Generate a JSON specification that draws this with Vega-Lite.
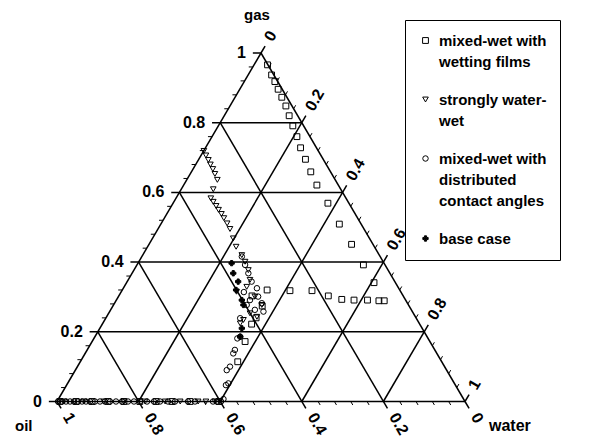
{
  "$schema": "https://vega.github.io/schema/vega-lite/v6.json",
  "width": 408,
  "height": 348.5,
  "autosize": {"type": "none"},
  "padding": {"left": 57, "top": 53, "right": 124, "bottom": 36.5},
  "background": "white",
  "config": {
    "view": {"stroke": null},
    "font": "Liberation Sans",
    "style": {"guide-label": {"lineHeight": 21}},
    "legend": {
      "strokeColor": "black",
      "fillColor": "white",
      "padding": 13,
      "labelFont": "Liberation Sans",
      "labelFontSize": 15,
      "labelFontWeight": "bold",
      "labelColor": "black",
      "labelLimit": 400,
      "rowPadding": 22,
      "labelOffset": 6,
      "symbolStrokeWidth": 1
    }
  },
  "datasets": {
    "major": [
      {"x": 0, "y": 0, "x2": 1, "y2": 0},
      {"x": 0, "y": 0, "x2": 0.5, "y2": 1},
      {"x": 1, "y": 0, "x2": 0.5, "y2": 1},
      {"x": -0.02, "y": 0, "x2": 0, "y2": 0},
      {"x": 0.08, "y": 0.2, "x2": 0.9, "y2": 0.2},
      {"x": 0.18, "y": 0.4, "x2": 0.8, "y2": 0.4},
      {"x": 0.28, "y": 0.6, "x2": 0.7, "y2": 0.6},
      {"x": 0.38, "y": 0.8, "x2": 0.6, "y2": 0.8},
      {"x": 0.48, "y": 1, "x2": 0.5, "y2": 1},
      {"x": 0.5, "y": 1, "x2": 0.51, "y2": 1.02},
      {"x": 0.2, "y": 0, "x2": 0.61, "y2": 0.82},
      {"x": 0.4, "y": 0, "x2": 0.71, "y2": 0.62},
      {"x": 0.6, "y": 0, "x2": 0.81, "y2": 0.42},
      {"x": 0.8, "y": 0, "x2": 0.91, "y2": 0.22},
      {"x": 1, "y": 0, "x2": 1.01, "y2": 0.02},
      {"x": 0.4, "y": 0.8, "x2": 0.81, "y2": -0.02},
      {"x": 0.3, "y": 0.6, "x2": 0.61, "y2": -0.02},
      {"x": 0.2, "y": 0.4, "x2": 0.41, "y2": -0.02},
      {"x": 0.1, "y": 0.2, "x2": 0.21, "y2": -0.02},
      {"x": 0, "y": 0, "x2": 0.01, "y2": -0.02},
      {"x": 1, "y": 0, "x2": 1.01, "y2": -0.02}
    ],
    "minor": [
      {"x": 0.02, "y": 0.04, "x2": 0.01, "y2": 0.04},
      {"x": 0.04, "y": 0.08, "x2": 0.03, "y2": 0.08},
      {"x": 0.06, "y": 0.12, "x2": 0.05, "y2": 0.12},
      {"x": 0.08, "y": 0.16, "x2": 0.07, "y2": 0.16},
      {"x": 0.12, "y": 0.24, "x2": 0.11, "y2": 0.24},
      {"x": 0.14, "y": 0.28, "x2": 0.13, "y2": 0.28},
      {"x": 0.16, "y": 0.32, "x2": 0.15, "y2": 0.32},
      {"x": 0.18, "y": 0.36, "x2": 0.17, "y2": 0.36},
      {"x": 0.22, "y": 0.44, "x2": 0.21, "y2": 0.44},
      {"x": 0.24, "y": 0.48, "x2": 0.23, "y2": 0.48},
      {"x": 0.26, "y": 0.52, "x2": 0.25, "y2": 0.52},
      {"x": 0.28, "y": 0.56, "x2": 0.27, "y2": 0.56},
      {"x": 0.32, "y": 0.64, "x2": 0.31, "y2": 0.64},
      {"x": 0.34, "y": 0.68, "x2": 0.33, "y2": 0.68},
      {"x": 0.36, "y": 0.72, "x2": 0.35, "y2": 0.72},
      {"x": 0.38, "y": 0.76, "x2": 0.37, "y2": 0.76},
      {"x": 0.42, "y": 0.84, "x2": 0.41, "y2": 0.84},
      {"x": 0.44, "y": 0.88, "x2": 0.43, "y2": 0.88},
      {"x": 0.46, "y": 0.92, "x2": 0.45, "y2": 0.92},
      {"x": 0.48, "y": 0.96, "x2": 0.47, "y2": 0.96},
      {"x": 0.52, "y": 0.96, "x2": 0.525, "y2": 0.97},
      {"x": 0.54, "y": 0.92, "x2": 0.545, "y2": 0.93},
      {"x": 0.56, "y": 0.88, "x2": 0.565, "y2": 0.89},
      {"x": 0.58, "y": 0.84, "x2": 0.585, "y2": 0.85},
      {"x": 0.62, "y": 0.76, "x2": 0.625, "y2": 0.77},
      {"x": 0.64, "y": 0.72, "x2": 0.645, "y2": 0.73},
      {"x": 0.66, "y": 0.68, "x2": 0.665, "y2": 0.69},
      {"x": 0.68, "y": 0.64, "x2": 0.685, "y2": 0.65},
      {"x": 0.72, "y": 0.56, "x2": 0.725, "y2": 0.57},
      {"x": 0.74, "y": 0.52, "x2": 0.745, "y2": 0.53},
      {"x": 0.76, "y": 0.48, "x2": 0.765, "y2": 0.49},
      {"x": 0.78, "y": 0.44, "x2": 0.785, "y2": 0.45},
      {"x": 0.82, "y": 0.36, "x2": 0.825, "y2": 0.37},
      {"x": 0.84, "y": 0.32, "x2": 0.845, "y2": 0.33},
      {"x": 0.86, "y": 0.28, "x2": 0.865, "y2": 0.29},
      {"x": 0.88, "y": 0.24, "x2": 0.885, "y2": 0.25},
      {"x": 0.92, "y": 0.16, "x2": 0.925, "y2": 0.17},
      {"x": 0.94, "y": 0.12, "x2": 0.945, "y2": 0.13},
      {"x": 0.96, "y": 0.08, "x2": 0.965, "y2": 0.09},
      {"x": 0.98, "y": 0.04, "x2": 0.985, "y2": 0.05},
      {"x": 0.04, "y": 0, "x2": 0.045, "y2": -0.01},
      {"x": 0.08, "y": 0, "x2": 0.085, "y2": -0.01},
      {"x": 0.12, "y": 0, "x2": 0.125, "y2": -0.01},
      {"x": 0.16, "y": 0, "x2": 0.165, "y2": -0.01},
      {"x": 0.24, "y": 0, "x2": 0.245, "y2": -0.01},
      {"x": 0.28, "y": 0, "x2": 0.285, "y2": -0.01},
      {"x": 0.32, "y": 0, "x2": 0.325, "y2": -0.01},
      {"x": 0.36, "y": 0, "x2": 0.365, "y2": -0.01},
      {"x": 0.44, "y": 0, "x2": 0.445, "y2": -0.01},
      {"x": 0.48, "y": 0, "x2": 0.485, "y2": -0.01},
      {"x": 0.52, "y": 0, "x2": 0.525, "y2": -0.01},
      {"x": 0.56, "y": 0, "x2": 0.565, "y2": -0.01},
      {"x": 0.64, "y": 0, "x2": 0.645, "y2": -0.01},
      {"x": 0.68, "y": 0, "x2": 0.685, "y2": -0.01},
      {"x": 0.72, "y": 0, "x2": 0.725, "y2": -0.01},
      {"x": 0.76, "y": 0, "x2": 0.765, "y2": -0.01},
      {"x": 0.84, "y": 0, "x2": 0.845, "y2": -0.01},
      {"x": 0.88, "y": 0, "x2": 0.885, "y2": -0.01},
      {"x": 0.92, "y": 0, "x2": 0.925, "y2": -0.01},
      {"x": 0.96, "y": 0, "x2": 0.965, "y2": -0.01}
    ],
    "labels": [
      {"k": "gas", "t": "0", "x": 0, "y": 0},
      {"k": "gas", "t": "0.2", "x": 0.1, "y": 0.2},
      {"k": "gas", "t": "0.4", "x": 0.2, "y": 0.4},
      {"k": "gas", "t": "0.6", "x": 0.3, "y": 0.6},
      {"k": "gas", "t": "0.8", "x": 0.4, "y": 0.8},
      {"k": "gas", "t": "1", "x": 0.5, "y": 1},
      {"k": "oil", "t": "1", "x": 0, "y": 0},
      {"k": "oil", "t": "0.8", "x": 0.2, "y": 0},
      {"k": "oil", "t": "0.6", "x": 0.4, "y": 0},
      {"k": "oil", "t": "0.4", "x": 0.6, "y": 0},
      {"k": "oil", "t": "0.2", "x": 0.8, "y": 0},
      {"k": "oil", "t": "0", "x": 1, "y": 0},
      {"k": "water", "t": "0", "x": 0.5, "y": 1},
      {"k": "water", "t": "0.2", "x": 0.6, "y": 0.8},
      {"k": "water", "t": "0.4", "x": 0.7, "y": 0.6},
      {"k": "water", "t": "0.6", "x": 0.8, "y": 0.4},
      {"k": "water", "t": "0.8", "x": 0.9, "y": 0.2},
      {"k": "water", "t": "1", "x": 1, "y": 0},
      {"k": "tgas", "t": "gas", "x": 0.5, "y": 1},
      {"k": "toil", "t": "oil", "x": 0, "y": 0},
      {"k": "twater", "t": "water", "x": 1, "y": 0}
    ],
    "pts": [
      {"s": "mixed-wet with wetting films", "x": 0.516, "y": 0.966},
      {"s": "mixed-wet with wetting films", "x": 0.526, "y": 0.937},
      {"s": "mixed-wet with wetting films", "x": 0.534, "y": 0.918},
      {"s": "mixed-wet with wetting films", "x": 0.542, "y": 0.896},
      {"s": "mixed-wet with wetting films", "x": 0.551, "y": 0.873},
      {"s": "mixed-wet with wetting films", "x": 0.561, "y": 0.848},
      {"s": "mixed-wet with wetting films", "x": 0.569, "y": 0.82},
      {"s": "mixed-wet with wetting films", "x": 0.578, "y": 0.791},
      {"s": "mixed-wet with wetting films", "x": 0.588, "y": 0.76},
      {"s": "mixed-wet with wetting films", "x": 0.597, "y": 0.728},
      {"s": "mixed-wet with wetting films", "x": 0.609, "y": 0.695},
      {"s": "mixed-wet with wetting films", "x": 0.622, "y": 0.659},
      {"s": "mixed-wet with wetting films", "x": 0.637, "y": 0.621},
      {"s": "mixed-wet with wetting films", "x": 0.664, "y": 0.569},
      {"s": "mixed-wet with wetting films", "x": 0.692, "y": 0.509},
      {"s": "mixed-wet with wetting films", "x": 0.722, "y": 0.451},
      {"s": "mixed-wet with wetting films", "x": 0.751, "y": 0.392},
      {"s": "mixed-wet with wetting films", "x": 0.777, "y": 0.341},
      {"s": "mixed-wet with wetting films", "x": 0.515, "y": 0.32},
      {"s": "mixed-wet with wetting films", "x": 0.571, "y": 0.318},
      {"s": "mixed-wet with wetting films", "x": 0.625, "y": 0.318},
      {"s": "mixed-wet with wetting films", "x": 0.665, "y": 0.303},
      {"s": "mixed-wet with wetting films", "x": 0.698, "y": 0.293},
      {"s": "mixed-wet with wetting films", "x": 0.728, "y": 0.291},
      {"s": "mixed-wet with wetting films", "x": 0.761, "y": 0.291},
      {"s": "mixed-wet with wetting films", "x": 0.789, "y": 0.289},
      {"s": "mixed-wet with wetting films", "x": 0.802, "y": 0.289},
      {"s": "mixed-wet with wetting films", "x": 0.478, "y": 0.303},
      {"s": "mixed-wet with wetting films", "x": 0.503, "y": 0.274},
      {"s": "mixed-wet with wetting films", "x": 0.488, "y": 0.24},
      {"s": "mixed-wet with wetting films", "x": 0.477, "y": 0.222},
      {"s": "mixed-wet with wetting films", "x": 0.461, "y": 0.172},
      {"s": "mixed-wet with wetting films", "x": 0.443, "y": 0.114},
      {"s": "mixed-wet with wetting films", "x": 0.007, "y": 0},
      {"s": "mixed-wet with wetting films", "x": 0.047, "y": 0},
      {"s": "mixed-wet with wetting films", "x": 0.086, "y": 0},
      {"s": "mixed-wet with wetting films", "x": 0.125, "y": 0},
      {"s": "mixed-wet with wetting films", "x": 0.164, "y": 0},
      {"s": "mixed-wet with wetting films", "x": 0.203, "y": 0},
      {"s": "mixed-wet with wetting films", "x": 0.243, "y": 0},
      {"s": "mixed-wet with wetting films", "x": 0.282, "y": 0},
      {"s": "mixed-wet with wetting films", "x": 0.326, "y": 0},
      {"s": "mixed-wet with wetting films", "x": 0.397, "y": 0},
      {"s": "strongly water-wet", "x": 0.36, "y": 0.719},
      {"s": "strongly water-wet", "x": 0.365, "y": 0.706},
      {"s": "strongly water-wet", "x": 0.371, "y": 0.693},
      {"s": "strongly water-wet", "x": 0.376, "y": 0.68},
      {"s": "strongly water-wet", "x": 0.382, "y": 0.667},
      {"s": "strongly water-wet", "x": 0.387, "y": 0.653},
      {"s": "strongly water-wet", "x": 0.393, "y": 0.636},
      {"s": "strongly water-wet", "x": 0.383, "y": 0.609},
      {"s": "strongly water-wet", "x": 0.377, "y": 0.583},
      {"s": "strongly water-wet", "x": 0.383, "y": 0.573},
      {"s": "strongly water-wet", "x": 0.39, "y": 0.561},
      {"s": "strongly water-wet", "x": 0.396, "y": 0.55},
      {"s": "strongly water-wet", "x": 0.403, "y": 0.538},
      {"s": "strongly water-wet", "x": 0.409, "y": 0.526},
      {"s": "strongly water-wet", "x": 0.417, "y": 0.511},
      {"s": "strongly water-wet", "x": 0.424, "y": 0.495},
      {"s": "strongly water-wet", "x": 0.432, "y": 0.468},
      {"s": "strongly water-wet", "x": 0.439, "y": 0.444},
      {"s": "strongly water-wet", "x": 0.453, "y": 0.42},
      {"s": "strongly water-wet", "x": 0.461, "y": 0.401},
      {"s": "strongly water-wet", "x": 0.469, "y": 0.377},
      {"s": "strongly water-wet", "x": 0.473, "y": 0.349},
      {"s": "strongly water-wet", "x": 0.465, "y": 0.329},
      {"s": "strongly water-wet", "x": 0.44, "y": 0.315},
      {"s": "strongly water-wet", "x": 0.485, "y": 0.301},
      {"s": "strongly water-wet", "x": 0.502, "y": 0.277},
      {"s": "strongly water-wet", "x": 0.473, "y": 0.253},
      {"s": "strongly water-wet", "x": 0.49, "y": 0.243},
      {"s": "strongly water-wet", "x": 0.457, "y": 0.234},
      {"s": "strongly water-wet", "x": 0.449, "y": 0.224},
      {"s": "strongly water-wet", "x": 0.017, "y": 0},
      {"s": "strongly water-wet", "x": 0.066, "y": 0},
      {"s": "strongly water-wet", "x": 0.115, "y": 0},
      {"s": "strongly water-wet", "x": 0.164, "y": 0},
      {"s": "strongly water-wet", "x": 0.216, "y": 0},
      {"s": "strongly water-wet", "x": 0.265, "y": 0},
      {"s": "strongly water-wet", "x": 0.302, "y": 0},
      {"s": "strongly water-wet", "x": 0.346, "y": 0},
      {"s": "strongly water-wet", "x": 0.365, "y": 0},
      {"s": "strongly water-wet", "x": 0.387, "y": 0},
      {"s": "mixed-wet with distributed contact angles", "x": 0.453, "y": 0.416},
      {"s": "mixed-wet with distributed contact angles", "x": 0.461, "y": 0.392},
      {"s": "mixed-wet with distributed contact angles", "x": 0.469, "y": 0.368},
      {"s": "mixed-wet with distributed contact angles", "x": 0.477, "y": 0.344},
      {"s": "mixed-wet with distributed contact angles", "x": 0.49, "y": 0.325},
      {"s": "mixed-wet with distributed contact angles", "x": 0.493, "y": 0.301},
      {"s": "mixed-wet with distributed contact angles", "x": 0.502, "y": 0.282},
      {"s": "mixed-wet with distributed contact angles", "x": 0.506, "y": 0.258},
      {"s": "mixed-wet with distributed contact angles", "x": 0.485, "y": 0.263},
      {"s": "mixed-wet with distributed contact angles", "x": 0.465, "y": 0.277},
      {"s": "mixed-wet with distributed contact angles", "x": 0.449, "y": 0.239},
      {"s": "mixed-wet with distributed contact angles", "x": 0.449, "y": 0.186},
      {"s": "mixed-wet with distributed contact angles", "x": 0.458, "y": 0.314},
      {"s": "mixed-wet with distributed contact angles", "x": 0.473, "y": 0.291},
      {"s": "mixed-wet with distributed contact angles", "x": 0.442, "y": 0.181},
      {"s": "mixed-wet with distributed contact angles", "x": 0.436, "y": 0.148},
      {"s": "mixed-wet with distributed contact angles", "x": 0.432, "y": 0.138},
      {"s": "mixed-wet with distributed contact angles", "x": 0.424, "y": 0.1},
      {"s": "mixed-wet with distributed contact angles", "x": 0.416, "y": 0.09},
      {"s": "mixed-wet with distributed contact angles", "x": 0.42, "y": 0.052},
      {"s": "mixed-wet with distributed contact angles", "x": 0.414, "y": 0.047},
      {"s": "mixed-wet with distributed contact angles", "x": 0.408, "y": 0.007},
      {"s": "mixed-wet with distributed contact angles", "x": 0.0025, "y": 0},
      {"s": "mixed-wet with distributed contact angles", "x": 0.0123, "y": 0},
      {"s": "mixed-wet with distributed contact angles", "x": 0.0221, "y": 0},
      {"s": "mixed-wet with distributed contact angles", "x": 0.0319, "y": 0},
      {"s": "mixed-wet with distributed contact angles", "x": 0.0417, "y": 0},
      {"s": "mixed-wet with distributed contact angles", "x": 0.0515, "y": 0},
      {"s": "mixed-wet with distributed contact angles", "x": 0.0613, "y": 0},
      {"s": "mixed-wet with distributed contact angles", "x": 0.0711, "y": 0},
      {"s": "mixed-wet with distributed contact angles", "x": 0.0809, "y": 0},
      {"s": "mixed-wet with distributed contact angles", "x": 0.0931, "y": 0},
      {"s": "mixed-wet with distributed contact angles", "x": 0.1054, "y": 0},
      {"s": "mixed-wet with distributed contact angles", "x": 0.1176, "y": 0},
      {"s": "mixed-wet with distributed contact angles", "x": 0.1299, "y": 0},
      {"s": "mixed-wet with distributed contact angles", "x": 0.1446, "y": 0},
      {"s": "mixed-wet with distributed contact angles", "x": 0.1593, "y": 0},
      {"s": "mixed-wet with distributed contact angles", "x": 0.174, "y": 0},
      {"s": "mixed-wet with distributed contact angles", "x": 0.1887, "y": 0},
      {"s": "mixed-wet with distributed contact angles", "x": 0.2034, "y": 0},
      {"s": "mixed-wet with distributed contact angles", "x": 0.2206, "y": 0},
      {"s": "mixed-wet with distributed contact angles", "x": 0.2377, "y": 0},
      {"s": "mixed-wet with distributed contact angles", "x": 0.2525, "y": 0},
      {"s": "mixed-wet with distributed contact angles", "x": 0.2721, "y": 0},
      {"s": "mixed-wet with distributed contact angles", "x": 0.2892, "y": 0},
      {"s": "mixed-wet with distributed contact angles", "x": 0.3211, "y": 0},
      {"s": "mixed-wet with distributed contact angles", "x": 0.3382, "y": 0},
      {"s": "mixed-wet with distributed contact angles", "x": 0.3824, "y": 0},
      {"s": "mixed-wet with distributed contact angles", "x": 0.3922, "y": 0},
      {"s": "mixed-wet with distributed contact angles", "x": 0.402, "y": 0},
      {"s": "base case", "x": 0.428, "y": 0.397},
      {"s": "base case", "x": 0.432, "y": 0.368},
      {"s": "base case", "x": 0.444, "y": 0.344},
      {"s": "base case", "x": 0.439, "y": 0.32},
      {"s": "base case", "x": 0.453, "y": 0.291},
      {"s": "base case", "x": 0.457, "y": 0.277},
      {"s": "base case", "x": 0.453, "y": 0.21},
      {"s": "base case", "x": 0.449, "y": 0.186}
    ]
  },
  "layer": [
    {
      "data": {"name": "major"},
      "mark": {"type": "rule", "stroke": "black", "strokeWidth": 1.5},
      "encoding": {
        "x": {"field": "x", "type": "quantitative", "scale": {"domain": [0, 1], "nice": false, "zero": false}, "axis": null},
        "y": {"field": "y", "type": "quantitative", "scale": {"domain": [0, 1], "nice": false, "zero": false}, "axis": null},
        "x2": {"field": "x2"},
        "y2": {"field": "y2"}
      }
    },
    {
      "data": {"name": "minor"},
      "mark": {"type": "rule", "stroke": "black", "strokeWidth": 1},
      "encoding": {
        "x": {"field": "x", "type": "quantitative", "axis": null},
        "y": {"field": "y", "type": "quantitative", "axis": null},
        "x2": {"field": "x2"},
        "y2": {"field": "y2"}
      }
    },
    {
      "data": {"name": "pts"},
      "mark": {"type": "point", "filled": false, "strokeWidth": 1, "opacity": 1},
      "encoding": {
        "x": {"field": "x", "type": "quantitative", "axis": null},
        "y": {"field": "y", "type": "quantitative", "axis": null},
        "shape": {
          "field": "s", "type": "nominal",
          "scale": {"domain": ["mixed-wet with wetting films", "strongly water-wet", "mixed-wet with distributed contact angles", "base case"], "range": ["square", "triangle-down", "circle", "cross"]},
          "legend": {"title": null, "orient": "none", "legendX": 348, "legendY": -33,
            "labelExpr": "datum.label === 'mixed-wet with wetting films' ? ['mixed-wet with\u00a0\u00a0\u00a0\u00a0\u00a0\u00a0\u00a0\u00a0', 'wetting films'] : datum.label === 'strongly water-wet' ? ['strongly water-', 'wet'] : datum.label === 'mixed-wet with distributed contact angles' ? ['mixed-wet with', 'distributed', 'contact angles'] : datum.label"}
        },
        "fill": {
          "field": "s", "type": "nominal",
          "scale": {"domain": ["mixed-wet with wetting films", "strongly water-wet", "mixed-wet with distributed contact angles", "base case"], "range": ["transparent", "transparent", "transparent", "black"]},
          "legend": {"title": null, "orient": "none", "legendX": 348, "legendY": -33,
            "labelExpr": "datum.label === 'mixed-wet with wetting films' ? ['mixed-wet with\u00a0\u00a0\u00a0\u00a0\u00a0\u00a0\u00a0\u00a0', 'wetting films'] : datum.label === 'strongly water-wet' ? ['strongly water-', 'wet'] : datum.label === 'mixed-wet with distributed contact angles' ? ['mixed-wet with', 'distributed', 'contact angles'] : datum.label"}
        },
        "stroke": {
          "field": "s", "type": "nominal",
          "scale": {"domain": ["mixed-wet with wetting films", "strongly water-wet", "mixed-wet with distributed contact angles", "base case"], "range": ["black", "black", "black", "black"]},
          "legend": {"title": null, "orient": "none", "legendX": 348, "legendY": -33,
            "labelExpr": "datum.label === 'mixed-wet with wetting films' ? ['mixed-wet with\u00a0\u00a0\u00a0\u00a0\u00a0\u00a0\u00a0\u00a0', 'wetting films'] : datum.label === 'strongly water-wet' ? ['strongly water-', 'wet'] : datum.label === 'mixed-wet with distributed contact angles' ? ['mixed-wet with', 'distributed', 'contact angles'] : datum.label"}
        },
        "size": {
          "field": "s", "type": "nominal",
          "scale": {"domain": ["mixed-wet with wetting films", "strongly water-wet", "mixed-wet with distributed contact angles", "base case"], "range": [34, 28, 26, 30]},
          "legend": {"title": null, "orient": "none", "legendX": 348, "legendY": -33,
            "labelExpr": "datum.label === 'mixed-wet with wetting films' ? ['mixed-wet with\u00a0\u00a0\u00a0\u00a0\u00a0\u00a0\u00a0\u00a0', 'wetting films'] : datum.label === 'strongly water-wet' ? ['strongly water-', 'wet'] : datum.label === 'mixed-wet with distributed contact angles' ? ['mixed-wet with', 'distributed', 'contact angles'] : datum.label"}
        }
      }
    },
    {
      "data": {"name": "labels"},
      "transform": [{"filter": "datum.k === 'gas'"}],
      "mark": {"type": "text", "align": "right", "baseline": "middle", "dx": -15, "fontSize": 16, "fontWeight": "bold", "font": "Liberation Sans", "color": "black"},
      "encoding": {
        "x": {"field": "x", "type": "quantitative", "axis": null},
        "y": {"field": "y", "type": "quantitative", "axis": null},
        "text": {"field": "t", "type": "nominal"}
      }
    },
    {
      "data": {"name": "labels"},
      "transform": [{"filter": "datum.k === 'oil'"}],
      "mark": {"type": "text", "align": "left", "baseline": "middle", "angle": 60, "dx": 16, "dy": -2, "fontSize": 16, "fontWeight": "bold", "font": "Liberation Sans", "color": "black"},
      "encoding": {
        "x": {"field": "x", "type": "quantitative", "axis": null},
        "y": {"field": "y", "type": "quantitative", "axis": null},
        "text": {"field": "t", "type": "nominal"}
      }
    },
    {
      "data": {"name": "labels"},
      "transform": [{"filter": "datum.k === 'water'"}],
      "mark": {"type": "text", "align": "left", "baseline": "middle", "angle": 300, "dx": 15, "dy": 0, "fontSize": 16, "fontWeight": "bold", "font": "Liberation Sans", "color": "black"},
      "encoding": {
        "x": {"field": "x", "type": "quantitative", "axis": null},
        "y": {"field": "y", "type": "quantitative", "axis": null},
        "text": {"field": "t", "type": "nominal"}
      }
    },
    {
      "data": {"name": "labels"},
      "transform": [{"filter": "datum.k === 'tgas'"}],
      "mark": {"type": "text", "align": "center", "baseline": "middle", "dx": -4, "dy": -38, "fontSize": 15, "fontWeight": "bold", "font": "Liberation Sans", "color": "black"},
      "encoding": {
        "x": {"field": "x", "type": "quantitative", "axis": null},
        "y": {"field": "y", "type": "quantitative", "axis": null},
        "text": {"field": "t", "type": "nominal"}
      }
    },
    {
      "data": {"name": "labels"},
      "transform": [{"filter": "datum.k === 'toil'"}],
      "mark": {"type": "text", "align": "left", "baseline": "middle", "dx": -42, "dy": 24, "fontSize": 15, "fontWeight": "bold", "font": "Liberation Sans", "color": "black"},
      "encoding": {
        "x": {"field": "x", "type": "quantitative", "axis": null},
        "y": {"field": "y", "type": "quantitative", "axis": null},
        "text": {"field": "t", "type": "nominal"}
      }
    },
    {
      "data": {"name": "labels"},
      "transform": [{"filter": "datum.k === 'twater'"}],
      "mark": {"type": "text", "align": "left", "baseline": "middle", "dx": 24, "dy": 24, "fontSize": 16, "fontWeight": "bold", "font": "Liberation Sans", "color": "black"},
      "encoding": {
        "x": {"field": "x", "type": "quantitative", "axis": null},
        "y": {"field": "y", "type": "quantitative", "axis": null},
        "text": {"field": "t", "type": "nominal"}
      }
    }
  ]
}
